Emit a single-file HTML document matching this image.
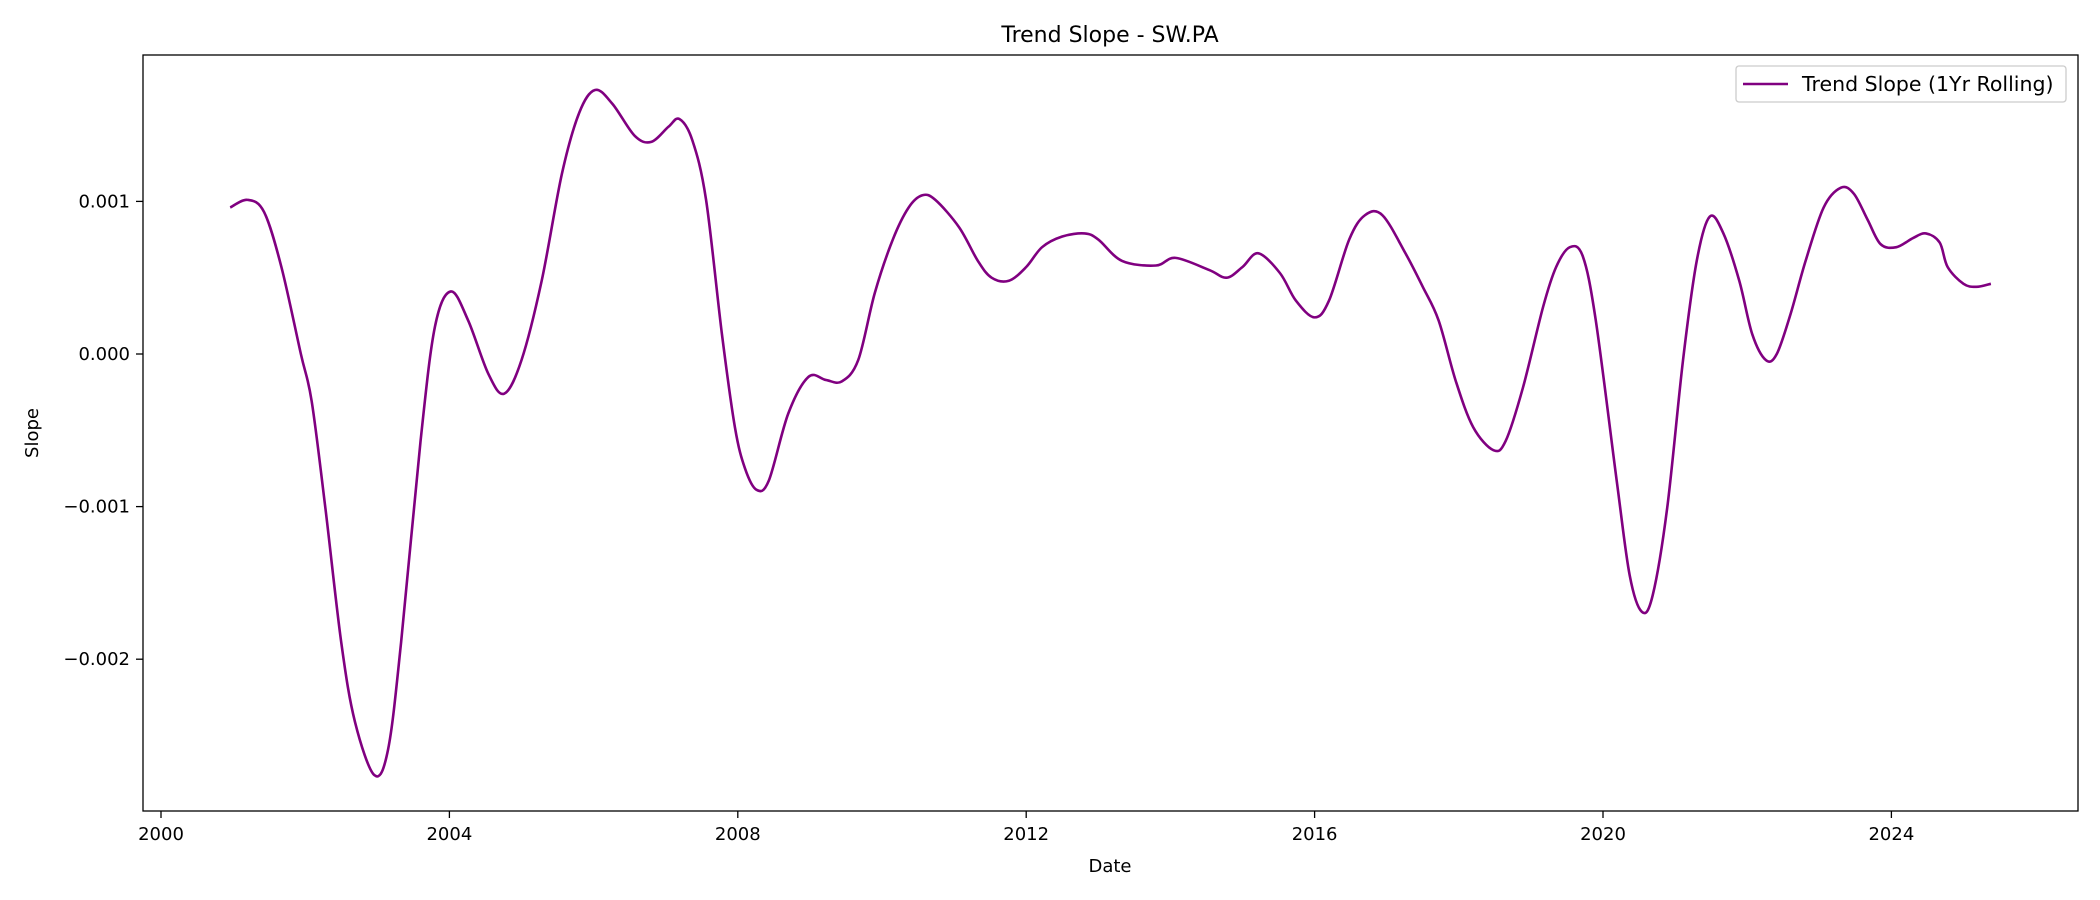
<!DOCTYPE html>
<html><head><meta charset="utf-8"><style>
body{margin:0;background:#fff;}
svg{display:block;font-family:"DejaVu Sans","Liberation Sans",sans-serif;}
</style></head><body>
<svg id="chart" width="2100" height="900" viewBox="0 0 2100 900" xmlns="http://www.w3.org/2000/svg">
<rect width="2100" height="900" fill="#fff"/>
<text x="1110" y="42" text-anchor="middle" font-size="22" fill="#000">Trend Slope - SW.PA</text>
<g id="axes"></g>
<g id="series"></g>
<rect x="143" y="55" width="1935" height="756" fill="none" stroke="#000" stroke-width="1.3"/>
<g>
<rect x="1736" y="66" width="330" height="36" rx="3" fill="#fff" stroke="#ccc" stroke-width="1.3"/>
<line x1="1743" y1="84" x2="1788" y2="84" stroke="#800080" stroke-width="2.6"/>
<text x="1802" y="91" font-size="20.5" fill="#000">Trend Slope (1Yr Rolling)</text>
</g>
<text x="1110" y="872" text-anchor="middle" font-size="18" fill="#000">Date</text>
<text transform="translate(38,433) rotate(-90)" text-anchor="middle" font-size="18" fill="#000">Slope</text>
</svg>
<script>
const xTicks=[2000,2004,2008,2012,2016,2020,2024];
const yTicks=[0.001,0,-0.001,-0.002];
const yTickLabels=["0.001","0.000","\u22120.001","\u22120.002"];
const years=[2000.96,2001.2,2001.43,2001.67,2001.94,2002.09,2002.28,2002.5,2002.69,2002.96,2003.15,2003.33,2003.6,2003.8,2004.02,2004.26,2004.54,2004.76,2005.0,2005.28,2005.56,2005.8,2006.02,2006.26,2006.57,2006.8,2007.04,2007.19,2007.37,2007.56,2007.78,2007.96,2008.1,2008.26,2008.43,2008.7,2008.98,2009.22,2009.44,2009.67,2009.9,2010.15,2010.37,2010.56,2010.74,2011.07,2011.33,2011.52,2011.76,2012.0,2012.22,2012.5,2012.81,2013.0,2013.33,2013.8,2014.07,2014.54,2014.78,2015.0,2015.22,2015.52,2015.74,2016.0,2016.2,2016.48,2016.7,2016.94,2017.26,2017.5,2017.72,2017.96,2018.2,2018.48,2018.65,2018.89,2019.17,2019.35,2019.54,2019.72,2019.9,2020.19,2020.37,2020.54,2020.69,2020.89,2021.11,2021.3,2021.48,2021.67,2021.89,2022.07,2022.26,2022.41,2022.6,2022.81,2023.06,2023.3,2023.48,2023.67,2023.85,2024.07,2024.3,2024.48,2024.67,2024.78,2025.0,2025.18,2025.38];
const slopes=[0.00096,0.00101,0.00093,0.00057,0.0,-0.00031,-0.00101,-0.00189,-0.00241,-0.00276,-0.00259,-0.00189,-0.00057,0.00018,0.00041,0.00022,-0.00013,-0.00026,-0.00004,0.00048,0.00118,0.00158,0.00173,0.00164,0.00143,0.00139,0.00149,0.00154,0.0014,0.00101,0.00013,-0.00048,-0.00075,-0.00089,-0.00083,-0.00039,-0.00015,-0.00017,-0.00018,-0.00004,0.0004,0.00075,0.00096,0.00104,0.00101,0.00083,0.00061,0.0005,0.00048,0.00057,0.0007,0.00077,0.00079,0.00075,0.00061,0.00058,0.00063,0.00055,0.0005,0.00057,0.00066,0.00053,0.00035,0.00024,0.00035,0.00075,0.00091,0.00091,0.00066,0.00044,0.00022,-0.00018,-0.00048,-0.00063,-0.00057,-0.00022,0.00031,0.00057,0.0007,0.00064,0.00022,-0.00083,-0.00145,-0.00169,-0.00158,-0.00101,-0.00004,0.00061,0.0009,0.00079,0.00048,0.00013,-0.00004,0.0,0.00026,0.00061,0.00096,0.00109,0.00105,0.00088,0.00072,0.0007,0.00076,0.00079,0.00073,0.00057,0.00046,0.00044,0.00046];
const NS="http://www.w3.org/2000/svg";
function xScale(y){return 161+72.1*(y-2000);}
function yScale(v){return 354-v*152600;}
const axes=document.getElementById('axes');
function mk(tag,attrs,parent){const e=document.createElementNS(NS,tag);for(const k in attrs)e.setAttribute(k,attrs[k]);parent.appendChild(e);return e;}
xTicks.forEach(t=>{
  const x=xScale(t);
  const l=mk('line',{x1:x,y1:811,x2:x,y2:818,stroke:'#000','stroke-width':1.3},axes);
  
  
  const tx=mk('text',{x:x,y:840,'text-anchor':'middle','font-size':18,fill:'#000'},axes);
  tx.textContent=String(t);
  
  
});
yTicks.forEach((t,i)=>{
  const y=yScale(t);
  const l=mk('line',{x1:136,y1:y,x2:143,y2:y,stroke:'#000','stroke-width':1.3},axes);
  
  
  const tx=mk('text',{x:130,y:y+6,'text-anchor':'end','font-size':18,fill:'#000'},axes);
  tx.textContent=yTickLabels[i];
  
  
});
const pts=years.map((y,i)=>[xScale(y),yScale(slopes[i])]);
let d='M'+pts[0][0]+','+pts[0][1];
for(let i=0;i<pts.length-1;i++){
  const p0=pts[Math.max(0,i-1)],p1=pts[i],p2=pts[i+1],p3=pts[Math.min(pts.length-1,i+2)];
  const c1x=p1[0]+(p2[0]-p0[0])/6,c1y=p1[1]+(p2[1]-p0[1])/6;
  const c2x=p2[0]-(p3[0]-p1[0])/6,c2y=p2[1]-(p3[1]-p1[1])/6;
  d+=' C'+c1x+','+c1y+' '+c2x+','+c2y+' '+p2[0]+','+p2[1];
}
const path=mk('path',{d:d,fill:'none',stroke:'#800080','stroke-width':2.6,'stroke-linejoin':'round'},document.getElementById('series'));


</script>
</body></html>
